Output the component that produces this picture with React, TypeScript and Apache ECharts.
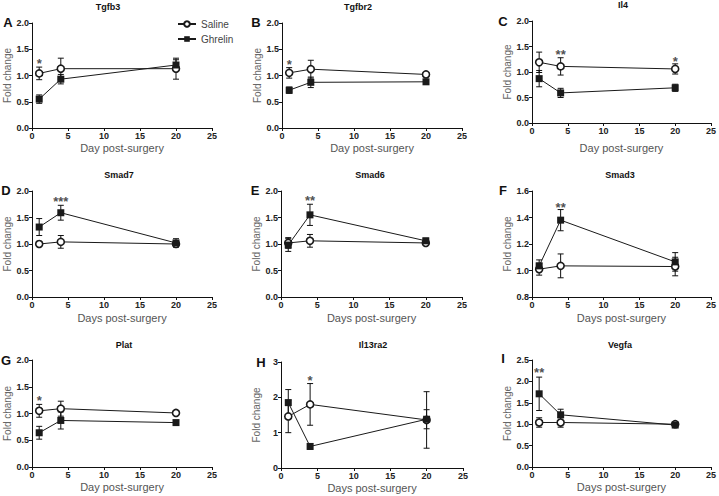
import React, { useEffect, useRef } from "react";
import * as echarts from "echarts";

// ---------- data ----------
const days = [1, 4, 20];
const genes = ["Tgfb3", "Tgfbr2", "Il4", "Smad7", "Smad6", "Smad3", "Plat", "Il13ra2", "Vegfa"];
const letters = ["A", "B", "C", "D", "E", "F", "G", "H", "I"];
const xNames = [
  "Day post-surgery", "Day post-surgery", "Day post-surgery",
  "Days post-surgery", "Days post-surgery", "Days post-surgery",
  "Day post-surgery", "Days post-surgery", "Days post-surgery",
];
const salineMeans = [
  [1.04, 1.13, 1.13],
  [1.05, 1.12, 1.02],
  [1.19, 1.11, 1.06],
  [1.0, 1.04, 1.0],
  [1.02, 1.06, 1.02],
  [1.01, 1.035, 1.03],
  [1.05, 1.09, 1.01],
  [1.46, 1.8, 1.36],
  [1.04, 1.04, 1.0],
];
const salineErrs = [
  [0.12, 0.2, 0.2],
  [0.1, 0.17, 0.03],
  [0.2, 0.17, 0.1],
  [0.05, 0.12, 0.05],
  [0.1, 0.12, 0.05],
  [0.045, 0.09, 0.07],
  [0.12, 0.14, 0.03],
  [0.46, 0.59, 0.8],
  [0.11, 0.11, 0.03],
];
const ghrelinMeans = [
  [0.55, 0.93, 1.2],
  [0.72, 0.87, 0.88],
  [0.87, 0.59, 0.69],
  [1.32, 1.59, 1.02],
  [0.98, 1.55, 1.06],
  [1.035, 1.38, 1.065],
  [0.64, 0.87, 0.83],
  [1.85, 0.61, 1.38],
  [1.71, 1.22, 0.98],
];
const ghrelinErrs = [
  [0.08, 0.09, 0.1],
  [0.06, 0.1, 0.02],
  [0.16, 0.09, 0.07],
  [0.16, 0.14, 0.08],
  [0.12, 0.2, 0.05],
  [0.045, 0.08, 0.07],
  [0.12, 0.16, 0.02],
  [0.37, 0.08, 0.27],
  [0.39, 0.13, 0.04],
];
const yMins = [0, 0, 0, 0, 0, 0.8, 0, 0, 0];
const yMaxs = [2, 2, 2, 2, 2, 1.6, 2, 3, 2.5];
const yIntervals = [0.5, 0.5, 0.5, 0.5, 0.5, 0.2, 0.5, 1, 0.5];
// significance marks: [panel, day, y-position, text]
const sigPanels = [0, 1, 2, 2, 3, 4, 5, 6, 7, 8];
const sigDays = [1, 1, 4, 20, 4, 4, 4, 1, 4, 1];
const sigY = [1.29, 1.27, 1.4, 1.26, 1.855, 1.87, 1.5, 1.3, 2.56, 2.28];
const sigTexts = ["*", "*", "**", "*", "***", "**", "**", "*", "*", "**"];

// ---------- layout ----------
const gridBoxes = [
  [32, 23, 180, 105],
  [282, 23, 180, 105],
  [532, 21, 180, 102],
  [32, 191, 180, 106],
  [281, 191, 181, 106],
  [532, 191, 180, 106],
  [32, 360, 180, 107],
  [281, 362, 182, 106],
  [532, 360, 180, 107],
];
const titlePos = [
  [108, 7], [358, 7], [623, 5],
  [119, 175], [370, 175], [620, 175],
  [124, 345], [373, 345], [620, 345],
];
const letterPos = [
  [8, 22], [256, 22], [503, 21],
  [6, 190], [255, 190], [503, 190],
  [6, 360], [261, 362], [503, 358],
];
const xNameGaps = [14, 14, 19, 15, 15, 15, 14, 14, 14];

export default function App() {
  const ref = useRef<HTMLDivElement>(null);
  useEffect(() => {
    if (!ref.current) return;
    const chart = echarts.init(ref.current, undefined, { renderer: "svg" });
    const font = "Liberation Sans, Arial, sans-serif";
    const grids: any[] = [];
    const xAxes: any[] = [];
    const yAxes: any[] = [];
    const series: any[] = [];
    const graphics: any[] = [];

    const errRender = (params: any, api: any) => {
      const x = api.value(0);
      const lo = api.coord([x, api.value(1)]);
      const hi = api.coord([x, api.value(2)]);
      const w = 3;
      const st = { stroke: "#111", lineWidth: 1 };
      return {
        type: "group",
        children: [
          { type: "line", shape: { x1: hi[0], y1: hi[1], x2: lo[0], y2: lo[1] }, style: st },
          { type: "line", shape: { x1: hi[0] - w, y1: hi[1], x2: hi[0] + w, y2: hi[1] }, style: st },
          { type: "line", shape: { x1: lo[0] - w, y1: lo[1], x2: lo[0] + w, y2: lo[1] }, style: st },
        ],
      };
    };

    genes.forEach((g, i) => {
      const [l, t, w, h] = gridBoxes[i];
      grids.push({ left: l, top: t, width: w, height: h, containLabel: false });
      xAxes.push({
        gridIndex: i,
        type: "value",
        min: 0,
        max: 25,
        interval: 5,
        name: xNames[i],
        nameLocation: "middle",
        nameGap: xNameGaps[i],
        nameTextStyle: { fontSize: 11, color: "#555", fontFamily: font },
        axisLine: { lineStyle: { color: "#111", width: 1 } },
        axisTick: { length: 3, lineStyle: { color: "#111" } },
        axisLabel: { fontSize: 9, fontWeight: "bold", color: "#222", margin: 3, fontFamily: font },
        splitLine: { show: false },
      });
      yAxes.push({
        gridIndex: i,
        type: "value",
        min: yMins[i],
        max: yMaxs[i],
        interval: yIntervals[i],
        name: "Fold change",
        nameLocation: "middle",
        nameGap: 20,
        nameTextStyle: { fontSize: 10, color: "#666", fontFamily: font },
        axisLine: { show: true, lineStyle: { color: "#111", width: 1 } },
        axisTick: { show: true, length: 3, lineStyle: { color: "#111" } },
        axisLabel: {
          fontSize: 9,
          fontWeight: "bold",
          color: "#222",
          margin: 3,
          fontFamily: font,
          formatter: (v: number) => (yIntervals[i] >= 1 ? String(Math.round(v)) : v.toFixed(1)),
        },
        splitLine: { show: false },
      });
      series.push({
        type: "custom",
        xAxisIndex: i,
        yAxisIndex: i,
        renderItem: errRender,
        encode: { x: 0, y: [1, 2] },
        data: days.map((d, j) => [d, salineMeans[i][j] - salineErrs[i][j], salineMeans[i][j] + salineErrs[i][j]]),
        z: 1,
        silent: true,
      });
      series.push({
        type: "custom",
        xAxisIndex: i,
        yAxisIndex: i,
        renderItem: errRender,
        encode: { x: 0, y: [1, 2] },
        data: days.map((d, j) => [d, ghrelinMeans[i][j] - ghrelinErrs[i][j], ghrelinMeans[i][j] + ghrelinErrs[i][j]]),
        z: 1,
        silent: true,
      });
      series.push({
        name: "Saline",
        type: "line",
        xAxisIndex: i,
        yAxisIndex: i,
        data: days.map((d, j) => [d, salineMeans[i][j]]),
        symbol: "circle",
        symbolSize: 7,
        showAllSymbol: true,
        lineStyle: { color: "#1a1a1a", width: 1 },
        itemStyle: { color: "#fff", borderColor: "#1a1a1a", borderWidth: 1.6 },
        z: 3,
      });
      series.push({
        name: "Ghrelin",
        type: "line",
        xAxisIndex: i,
        yAxisIndex: i,
        data: days.map((d, j) => [d, ghrelinMeans[i][j]]),
        symbol: "rect",
        symbolSize: 7,
        showAllSymbol: true,
        lineStyle: { color: "#1a1a1a", width: 1 },
        itemStyle: { color: "#1a1a1a", borderColor: "#1a1a1a", borderWidth: 0 },
        z: 4,
      });
      const sig: any[] = [];
      sigPanels.forEach((p, k) => {
        if (p === i) sig.push({ value: [sigDays[k], sigY[k]], name: sigTexts[k] });
      });
      series.push({
        type: "scatter",
        xAxisIndex: i,
        yAxisIndex: i,
        data: sig,
        symbolSize: 1,
        itemStyle: { color: "transparent" },
        silent: true,
        label: {
          show: true,
          position: "inside",
          offset: [0, 3],
          formatter: (p: any) => p.name,
          fontSize: 13,
          fontWeight: "bold",
          color: "#222",
          fontFamily: font,
        },
        z: 5,
      });
      graphics.push({
        type: "text",
        x: titlePos[i][0],
        y: titlePos[i][1],
        style: {
          text: g,
          align: "center",
          verticalAlign: "middle",
          font: "bold 9px " + font,
          fill: "#111",
        },
      });
      graphics.push({
        type: "text",
        x: letterPos[i][0],
        y: letterPos[i][1],
        style: {
          text: letters[i],
          align: "center",
          verticalAlign: "middle",
          font: "bold 13px " + font,
          fill: "#111",
        },
      });
    });

    chart.setOption({
      animation: false,
      backgroundColor: "#fff",
      grid: grids,
      xAxis: xAxes,
      yAxis: yAxes,
      series,
      graphic: graphics,
      legend: {
        data: ["Saline", "Ghrelin"],
        orient: "vertical",
        left: 172,
        top: 14,
        itemWidth: 18,
        itemHeight: 7,
        itemGap: 5,
        textStyle: { fontSize: 10, color: "#444", fontFamily: font },
        selectedMode: false,
      },
    });
    return () => chart.dispose();
  }, []);
  return (
    <div
      ref={ref}
      style={{ position: "fixed", left: 0, top: 0, width: 719, height: 496, background: "#fff" }}
    />
  );
}
